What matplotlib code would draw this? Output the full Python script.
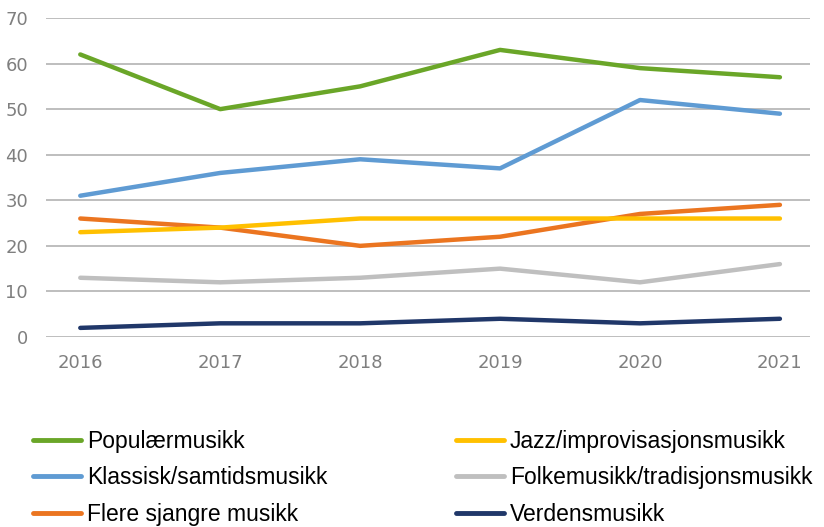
import matplotlib
matplotlib.use("Agg")
import matplotlib.pyplot as plt

years = ["2016", "2017", "2018", "2019", "2020", "2021"]
populaer = [62, 50, 55, 63, 59, 57]
klassisk = [31, 36, 39, 37, 52, 49]
flere = [26, 24, 20, 22, 27, 29]
jazz = [23, 24, 26, 26, 26, 26]
folke = [13, 12, 13, 15, 12, 16]
verdens = [2, 3, 3, 4, 3, 4]

names = ["Populærmusikk", "Klassisk/samtidsmusikk", "Flere sjangre musikk",
         "Jazz/improvisasjonsmusikk", "Folkemusikk/tradisjonsmusikk", "Verdensmusikk"]
series = [populaer, klassisk, flere, jazz, folke, verdens]
colors = ["#6aa628", "#5f9bd3", "#eb7520", "#ffc000", "#bfbfbf", "#203769"]

fig = plt.figure(figsize=(8.24, 5.27), dpi=100)
ax = fig.add_axes([46/824, 1-337/527, (810-46)/824, (337-18)/527])
x = list(range(len(years)))
handles = []
for vals, name, c in zip(series, names, colors):
    h, = ax.plot(x, vals, color=c, lw=3.2, solid_capstyle="round",
                 solid_joinstyle="round", label=name)
    handles.append(h)
ax.set_xlim(-0.245, 5.215)
ax.set_ylim(0, 70)
ax.set_yticks(range(0, 71, 10))
ax.set_xticks(x)
ax.set_xticklabels(years)
for s in ax.spines.values():
    s.set_visible(False)
ax.grid(axis="y", color="#b3b3b3", lw=1.2)
ax.set_axisbelow(True)
ax.tick_params(length=0, colors="#7f7f7f", labelsize=13)
ax.tick_params(axis="y", pad=13)
ax.tick_params(axis="x", pad=12)

leg = fig.legend(handles=handles, ncol=2, loc="upper left",
                 bbox_to_anchor=(28/824, 1-425/527), frameon=False,
                 prop={"family": "Liberation Sans", "size": 16.5}, handlelength=2.1,
                 handletextpad=0.27, columnspacing=5.6, labelspacing=0.6,
                 borderpad=0.2, borderaxespad=0)
for t in leg.get_texts():
    t.set_color("#000000")
for l in leg.get_lines():
    l.set_linewidth(3.5)

fig.savefig("out.png", dpi=100)
